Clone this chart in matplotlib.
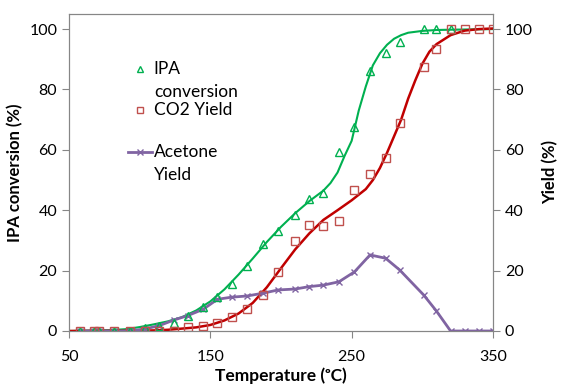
import numpy as np
import matplotlib.pyplot as plt

plt.rcParams['font.family'] = ['Lato', 'DejaVu Sans']

# measured points (temperature in C, percent)
temp = [58, 68, 71, 82, 93, 104, 114, 124, 134, 145, 155, 165, 176, 187, 198,
        210, 220, 230, 241, 252, 263, 274, 284, 301, 310, 320, 330, 340, 350]
ipa_temp = temp[:26]
ipa_conv = [0, 0, 0, 0, 0, 0.9, 1.8, 2.8, 5.1, 7.8, 11.2, 15.6, 21.6, 28.8, 33.1,
            38.3, 43.7, 45.6, 59.2, 67.7, 86.0, 92.0, 95.7, 100, 100, 100]
co2_yield = [0, 0, 0, 0, 0, 0, 0, 0, 1.4, 1.8, 2.8, 4.6, 7.2, 11.9, 19.6,
             29.8, 35.1, 34.9, 36.5, 46.7, 52.1, 57.4, 68.8, 87.5, 93.3, 99.9, 99.9, 100, 100]
acetone_yield = [0, 0, 0, 0, 0, 0.7, 1.8, 3.6, 5.1, 7.2, 10.5, 11.2, 11.6, 12.5, 13.6,
                 13.9, 14.7, 15.2, 16.3, 19.6, 25.2, 24.1, 20.2, 11.9, 6.6, 0, 0, 0, 0]

# fitted curves
ipa_fit_t = [50, 60, 70, 80, 90, 100, 110, 120, 130, 140, 150, 160, 170, 180, 190,
             200, 210, 220, 230, 235, 240, 245, 250, 255, 260, 265, 270, 275, 280,
             285, 290, 300, 310, 320, 350]
ipa_fit = [0, 0.1, 0.2, 0.3, 0.6, 1.3, 2.2, 3.2, 4.6, 6.8, 9.8, 13.8, 18.7, 24, 29.5,
           34.5, 39, 43, 46.5, 49, 52.5, 58, 63, 73, 81, 88, 92, 94.8, 96.8,
           98, 98.8, 99.4, 99.7, 99.8, 100]
co2_fit_t = [50, 100, 110, 120, 130, 140, 150, 160, 170, 180, 190, 200, 210, 220, 230,
             240, 250, 260, 265, 270, 275, 280, 285, 290, 295, 300, 305, 310, 320,
             330, 340, 350]
co2_fit = [0, 0.1, 0.2, 0.4, 0.8, 1.2, 2.0, 3.5, 5.8, 9.3, 14.5, 20.8, 27, 32.3, 36.8,
           40, 43.3, 47, 50, 54, 59, 64.5, 70, 77, 83, 88.5, 92.5, 95, 98,
           99.5, 100, 100.2]

green = '#00B050'
red_line = '#C00000'
red_mark = '#C0504D'
purple = '#8064A2'
spine_col = '#868686'

fig = plt.figure(figsize=(5.67, 3.91), dpi=100)
ax = fig.add_axes([69 / 567, 1 - 331 / 391, 424 / 567, 317 / 391])

ax.plot(ipa_fit_t, ipa_fit, color=green, lw=1.5, zorder=3)
ax.plot(co2_fit_t, co2_fit, color=red_line, lw=1.8, zorder=3)
ax.plot(temp, acetone_yield, color=purple, lw=2, marker='x', ms=5, mew=1, zorder=4)
ax.plot(ipa_temp, ipa_conv, ls='none', marker='^', ms=6, mfc='none', mec=green, mew=1, zorder=5)
ax.plot(temp, co2_yield, ls='none', marker='s', ms=6, mfc='none', mec=red_mark, mew=1, zorder=5)

ax.set_xlim(50, 350)
ax.set_ylim(0, 105)
ax.set_xticks([50, 150, 250, 350])
ax.set_yticks(range(0, 101, 20))
for s in ax.spines.values():
    s.set_color(spine_col)
ax.tick_params(colors=spine_col, labelcolor='black', labelsize=11.5, length=5)
ax.tick_params(axis='x', pad=9)

ax2 = ax.twinx()
ax2.set_ylim(0, 105)
ax2.set_yticks(range(0, 101, 20))
for s in ax2.spines.values():
    s.set_color(spine_col)
ax2.tick_params(colors=spine_col, labelcolor='black', labelsize=11.5, length=5)

ax.set_ylabel('IPA conversion (%)', fontsize=12, fontweight='bold', labelpad=4)
ax2.set_ylabel('Yield (%)', fontsize=12, fontweight='bold', labelpad=7)
ax.set_xlabel('Temperature (\u1d52C)', fontsize=12.5, fontweight='bold', labelpad=2)

# legend drawn in axes coordinates
tr = ax.transAxes
ax.plot([0.167], [0.826], transform=tr, ls='none', marker='^', ms=4.5, mfc='none', mec=green, mew=1, clip_on=False)
ax.plot([0.167], [0.697], transform=tr, ls='none', marker='s', ms=5, mfc='none', mec=red_mark, mew=1, clip_on=False)
ax.plot([0.139, 0.196], [0.565, 0.565], transform=tr, color=purple, lw=2, clip_on=False)
ax.plot([0.167], [0.565], transform=tr, ls='none', marker='x', ms=4, color=purple, mew=1)
legend_lines = [('IPA', 0.826), ('conversion', 0.754), ('CO2 Yield', 0.697),
                ('Acetone', 0.565), ('Yield', 0.492)]
for txt, yy in legend_lines:
    ax.text(0.200, yy, txt, transform=tr, fontsize=12.5, va='center', ha='left')

fig.savefig('out.png', dpi=100)
